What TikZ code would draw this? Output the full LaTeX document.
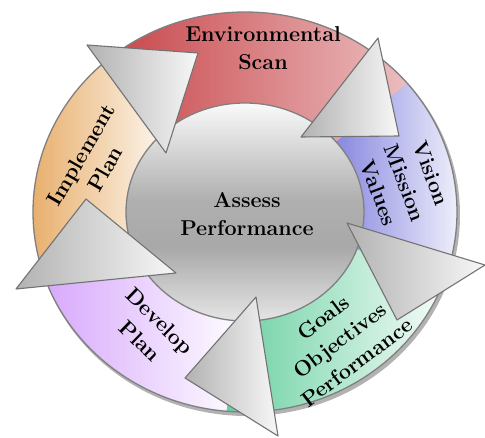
\documentclass[tikz,border=0pt]{standalone}
\usepackage{fontspec}
\usetikzlibrary{calc,shapes.geometric}
\definecolor{ScanRed}{RGB}{200,72,76}
\definecolor{VisionBlue}{RGB}{136,136,224}
\definecolor{GoalGreen}{RGB}{104,208,160}
\definecolor{DevPurple}{RGB}{214,166,252}
\definecolor{ImplOrange}{RGB}{230,168,96}
\definecolor{ArrowGray}{RGB}{178,178,178}
\definecolor{RimGray}{RGB}{128,128,128}
\def\RimGray{RimGray}
\def\ArrowEdge{black!55}
\pgfdeclareverticalshading{assessshade}{100bp}{color(0bp)=(white!88!black); color(25bp)=(white!90!black);
  color(42bp)=(white!66!black); color(53bp)=(white!69!black); color(75bp)=(white!98!black); color(100bp)=(white!98!black)}
% one band of the ring, between two angles
\newcommand\ringsector[2]{($(c)+(#1:212 and 200)$) arc[start angle=#1,end angle=#2,x radius=212,y radius=200]
  -- ($(c)+(#2:119 and 109)$) arc[start angle=#2,end angle=#1,x radius=119,y radius=109] -- cycle}

\begin{document}
\begin{tikzpicture}
    [x=1pt,y=1pt,
    lbl/.style={font=\fontsize{21.5}{28}\selectfont\bfseries,align=center,inner sep=0pt},
    rim/.style={draw=\RimGray,line width=1.3pt},
    turn/.style={draw=\ArrowEdge,line width=1.1pt,line join=round,left color=ArrowGray,right color=white!97!black},
    ]
    \useasboundingbox (0,0) rectangle (485,437);
    \coordinate (c) at (245,225);
    % shadow and coloured bands
    \fill[black!30] ($(c)+(2,-3)$) ellipse[x radius=213,y radius=201];
    \foreach \a/\b/\col/\lite in {128/40/ScanRed/ScanRed!36,40/-20/VisionBlue/VisionBlue!5,
        -20/-95/GoalGreen/GoalGreen!6,-95/-165/DevPurple/DevPurple!5,195/128/ImplOrange/ImplOrange!6}
      \path[left color=\col,right color=\lite] \ringsector{\a}{\b};
    \draw[rim] (c) ellipse[x radius=212,y radius=200];
    \node[ellipse,rim,shading=assessshade,minimum width=238,minimum height=218,inner sep=0pt] (assess) at (c) {};

    \node[lbl] (scan) at (263,388.5) {Environmental\\Scan};
    \node[lbl,rotate=-69.5] (vision) at (405,254) {Vision\\Mission\\Values};
    \node[lbl,rotate=37] (goals) at (340,97) {Goals\\Objectives\\Performance};
    \node[lbl,rotate=-44] (develop) at (150,106) {Develop\\Plan};
    \node[lbl,rotate=60] (implement) at (93,275) {Implement\\Plan};

    % the five arrows
    \draw[turn] (87,392) -- (198,384) -- (166,284) -- cycle;
    \draw[turn] (378,399) -- (399,301) -- (301,300) -- cycle;
    \draw[turn] (347,214) -- (485,172) -- (397,117) -- cycle;
    \draw[turn] (256,140) -- (185,59) -- (278,1) -- cycle;
    \draw[turn] (86,238) -- (16,148) -- (176,164) -- cycle;

    \node[lbl] (perf) at (247,223) {Assess\\Performance};
\end{tikzpicture}
\end{document}
